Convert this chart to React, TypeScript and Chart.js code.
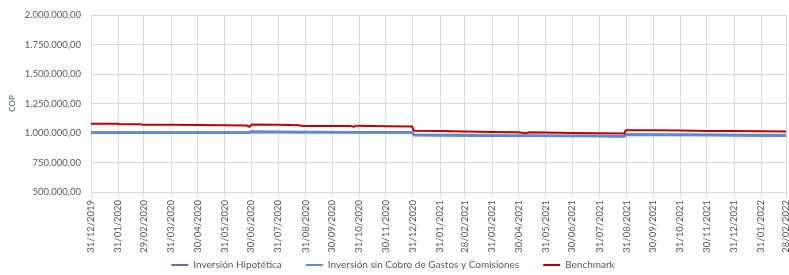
import React, { useEffect, useRef } from "react";
import { Chart, registerables } from "chart.js";

Chart.register(...registerables);

const TICK_LABELS = [
  "31/12/2019", "31/01/2020", "29/02/2020", "31/03/2020", "30/04/2020", "31/05/2020",
  "30/06/2020", "31/07/2020", "31/08/2020", "30/09/2020", "31/10/2020", "30/11/2020",
  "31/12/2020", "31/01/2021", "28/02/2021", "31/03/2021", "30/04/2021", "31/05/2021",
  "30/06/2021", "31/07/2021", "31/08/2021", "30/09/2021", "31/10/2021", "30/11/2021",
  "31/12/2021", "31/01/2022", "28/02/2022",
];

const BENCH_DATES = [
  "31/12/2019", "31/01/2020", "01/02/2020", "25/02/2020", "28/02/2020", "31/03/2020",
  "30/04/2020", "31/05/2020", "25/06/2020", "28/06/2020", "01/07/2020", "31/07/2020",
  "24/08/2020", "27/08/2020", "30/09/2020", "20/10/2020", "25/10/2020", "28/10/2020",
  "30/11/2020", "30/12/2020", "01/01/2021", "31/01/2021", "28/02/2021", "31/03/2021",
  "30/04/2021", "08/05/2021", "12/05/2021", "31/05/2021", "30/06/2021", "31/07/2021",
  "28/08/2021", "30/08/2021", "30/09/2021", "31/10/2021", "30/11/2021", "31/12/2021",
  "31/01/2022", "28/02/2022",
];
const BENCH_VALUES = [
  1078000, 1078000, 1075000, 1075000, 1070000, 1069000,
  1068000, 1066000, 1063000, 1053000, 1072000, 1069000,
  1066000, 1060000, 1060000, 1059000, 1053000, 1062000,
  1058000, 1055000, 1020000, 1016000, 1012000, 1009000,
  1007000, 998000, 1006000, 1005000, 1001000, 998000,
  996000, 1024000, 1024000, 1021000, 1018000, 1016000,
  1014000, 1013000,
];

const SIN_COBRO_DATES = [
  "31/12/2019", "31/03/2020", "27/06/2020", "30/06/2020", "31/07/2020", "31/10/2020",
  "30/12/2020", "01/01/2021", "31/03/2021", "31/07/2021", "28/08/2021", "30/08/2021",
  "30/11/2021", "28/02/2022",
];
const SIN_COBRO_VALUES = [
  1004000, 1004000, 1004000, 1011000, 1009000, 1007000,
  1006000, 983000, 978000, 975000, 972000, 987000,
  983000, 978000,
];

const HIPOTETICA_DATES = [
  "31/12/2019", "31/03/2020", "27/06/2020", "30/06/2020", "31/07/2020", "31/10/2020",
  "30/12/2020", "01/01/2021", "31/03/2021", "31/07/2021", "28/08/2021", "30/08/2021",
  "30/11/2021", "28/02/2022",
];
const HIPOTETICA_VALUES = [
  1003000, 1003000, 1003000, 1010000, 1008000, 1006000,
  1005000, 982000, 977000, 974000, 971000, 986000,
  982000, 977000,
];

const Y_MIN = 500000;
const Y_MAX = 2000000;
const Y_STEP = 250000;

const BASE = Date.UTC(2019, 11, 31);
function dayIndex(s: string): number {
  const [d, m, y] = s.split("/").map(Number);
  return Math.round((Date.UTC(y, m - 1, d) - BASE) / 86400000);
}
function toPoints(dates: string[], values: number[]) {
  return dates.map((d, i) => ({ x: dayIndex(d), y: values[i] }));
}
function fmt(v: number): string {
  const s = Math.round(v).toString().replace(/\B(?=(\d{3})+(?!\d))/g, ".");
  return s + ",00";
}

const FONT = "Lato, 'Open Sans', sans-serif";
const TEXT_COLOR = "#595959";
const GRID = "#D9D9D9";
const CANVAS_H = 275;
const PLOT_BOTTOM = 192;
const X_AXIS_H = 62;
const LEGEND_CENTER = 265;
const LEGEND_PAD = 24;
const LEGEND_FONT = 10;
const AXIS_FONT = 9.5;

const legendShift = {
  id: "legendShift",
  beforeLayout(chart: any) {
    const lg = chart.legend;
    if (lg && !lg.__patched) {
      const orig = lg.fit.bind(lg);
      lg.fit = () => {
        orig();
        lg.height = CANVAS_H - PLOT_BOTTOM - X_AXIS_H;
      };
      lg.__patched = true;
    }
  },
  beforeDraw(chart: any) {
    const lg = chart.legend;
    if (!lg) return;
    lg.top = LEGEND_CENTER - LEGEND_PAD - LEGEND_FONT / 2;
    lg.bottom = CANVAS_H;
    lg.height = lg.bottom - lg.top;
  },
};

export default function App() {
  const ref = useRef<HTMLCanvasElement | null>(null);
  useEffect(() => {
    if (!ref.current) return;
    const tickMap = new Map<number, string>();
    TICK_LABELS.forEach((l) => tickMap.set(dayIndex(l), l));
    const colors = ["#8064A2", "#5B8BD6", "#C00000"];
    const chart = new Chart(ref.current, {
      type: "line",
      plugins: [legendShift],
      data: {
        datasets: [
          {
            label: "Inversión Hipotética",
            data: toPoints(HIPOTETICA_DATES, HIPOTETICA_VALUES),
            borderColor: colors[0],
            backgroundColor: colors[0],
            borderWidth: 2.5,
            pointRadius: 0,
            tension: 0,
            order: 2,
          },
          {
            label: "Inversión sin Cobro de Gastos y Comisiones",
            data: toPoints(SIN_COBRO_DATES, SIN_COBRO_VALUES),
            borderColor: colors[1],
            backgroundColor: colors[1],
            borderWidth: 2.5,
            pointRadius: 0,
            tension: 0,
            order: 1,
          },
          {
            label: "Benchmark",
            data: toPoints(BENCH_DATES, BENCH_VALUES),
            borderColor: colors[2],
            backgroundColor: colors[2],
            borderWidth: 2,
            pointRadius: 0,
            tension: 0,
            order: 0,
          },
        ],
      },
      options: {
        animation: false,
        responsive: false,
        layout: { padding: { top: 15, right: 3, left: 0, bottom: 0 } },
        plugins: {
          tooltip: { enabled: false },
          legend: {
            position: "bottom",
            labels: {
              font: { family: FONT, size: LEGEND_FONT },
              color: TEXT_COLOR,
              boxWidth: 17,
              boxHeight: 2,
              padding: LEGEND_PAD,
              generateLabels: (ch: any) =>
                ch.data.datasets.map((ds: any, i: number) => ({
                  text: ds.label,
                  fillStyle: ds.borderColor,
                  strokeStyle: ds.borderColor,
                  lineWidth: 0,
                  hidden: false,
                  datasetIndex: i,
                  fontColor: TEXT_COLOR,
                })),
            },
          },
        },
        scales: {
          x: {
            type: "linear",
            min: 0,
            max: dayIndex("28/02/2022"),
            afterBuildTicks: (scale: any) => {
              scale.ticks = TICK_LABELS.map((l) => ({ value: dayIndex(l) }));
            },
            afterFit: (scale: any) => {
              scale.paddingRight = 0;
              scale.paddingLeft = 0;
              scale.height = X_AXIS_H;
            },
            grid: { color: GRID, tickLength: 5, drawTicks: true },
            border: { color: GRID },
            ticks: {
              autoSkip: false,
              minRotation: 90,
              maxRotation: 90,
              padding: 3,
              color: TEXT_COLOR,
              font: { family: FONT, size: AXIS_FONT },
              callback: (v: any) => tickMap.get(Number(v)) ?? "",
            },
          },
          y: {
            min: Y_MIN,
            max: Y_MAX,
            afterFit: (scale: any) => {
              scale.width = 91;
              scale.paddingTop = 0;
              scale.paddingBottom = 0;
            },
            ticks: {
              stepSize: Y_STEP,
              color: TEXT_COLOR,
              padding: 10,
              font: { family: FONT, size: AXIS_FONT },
              callback: (v: any) => fmt(Number(v)),
            },
            grid: { color: GRID, drawTicks: false },
            border: { color: GRID },
            title: {
              display: true,
              text: "COP",
              color: "#44546A",
              font: { family: FONT, size: 8 },
              padding: { top: 8, bottom: 0 },
            },
          },
        },
      },
    });
    return () => chart.destroy();
  }, []);
  return (
    <div style={{ position: "absolute", left: 0, top: 0, width: 789, height: 275, background: "#fff" }}>
      <canvas ref={ref} width={789} height={275} />
    </div>
  );
}
